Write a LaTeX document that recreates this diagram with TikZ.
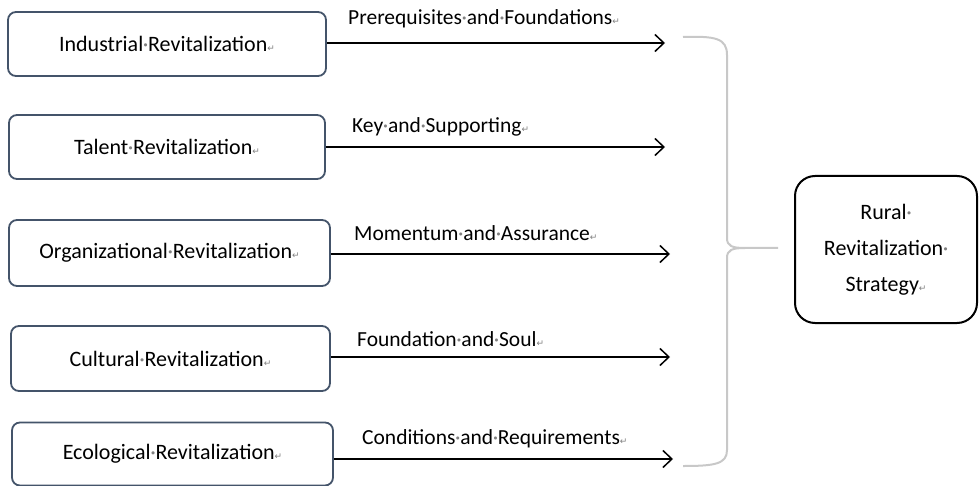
\documentclass[tikz,border=0pt]{standalone}
\usepackage{fontspec}
\setmainfont{Carlito}
\newfontfamily\djv{DejaVu Sans}
\usetikzlibrary{arrows.meta}
\definecolor{boxline}{HTML}{44546A}
\definecolor{bracegray}{HTML}{C8C8C8}
\newcommand\wdot{\makebox[0.22em]{\color{gray}\textperiodcentered}}
\newcommand\pmark{{\djv\fontsize{9}{9}\selectfont\color{gray}↵}}
\begin{document}
\begin{tikzpicture}[x=1pt,y=-1pt,
  font=\fontsize{22}{26}\selectfont,
  leftbox/.style={draw=boxline, line width=1.8pt, rounded corners=8pt, fill=white, inner sep=0pt},
  lbl/.style={anchor=west, inner sep=0pt, font=\fontsize{21.5}{26}\selectfont},
  arr/.style={line width=1.5pt, -{Straight Barb[length=9pt,width=17pt,line width=1.5pt]}},
  bracestyle/.style={draw=bracegray, line width=2pt}]
\useasboundingbox (0,0) rectangle (979,486);

\node[leftbox, minimum width=318pt, minimum height=64pt] (b1) at (167,44) {Industrial\wdot Revitalization\pmark};
\node[leftbox, minimum width=316pt, minimum height=64pt] (b2) at (167,147) {Talent\wdot Revitalization\pmark};
\node[leftbox, minimum width=321pt, minimum height=66pt] (b3) at (169.5,253) {Organizational\wdot Revitalization\pmark};
\node[leftbox, minimum width=319pt, minimum height=65pt] (b4) at (170.5,358.5) {Cultural\wdot Revitalization\pmark};
\node[leftbox, minimum width=321pt, minimum height=63pt] (b5) at (172.5,454) {Ecological\wdot Revitalization\pmark};

\coordinate (e1) at (665,43);
\coordinate (e2) at (665,147);
\coordinate (e3) at (670,254);
\coordinate (e4) at (670,357);
\coordinate (e5) at (673,459);

\draw[arr] (b1.east |- e1) -- (e1);
\draw[arr] (b2.east |- e2) -- (e2);
\draw[arr] (b3.east |- e3) -- (e3);
\draw[arr] (b4.east |- e4) -- (e4);
\draw[arr] (b5.east |- e5) -- (e5);

\node[lbl] (l1) at (348,19) {Prerequisites\wdot and\wdot Foundations\pmark};
\node[lbl] (l2) at (352,127) {Key\wdot and\wdot Supporting\pmark};
\node[lbl] (l3) at (354,233) {Momentum\wdot and\wdot Assurance\pmark};
\node[lbl] (l4) at (357,339) {Foundation\wdot and\wdot Soul\pmark};
\node[lbl] (l5) at (362,439) {Conditions\wdot and\wdot Requirements\pmark};

\draw[bracestyle] (683,37) .. controls (715,36) and (727,38) .. (727,55) -- (727,238)
  .. controls (727,246) and (732,248) .. (745,248) -- (778,248);
\draw[bracestyle] (745,248) .. controls (732,248) and (727,250) .. (727,258) -- (727,450)
  .. controls (727,464) and (715,466) .. (683,466);

\node[draw=black, line width=2pt, rounded corners=20pt, minimum width=182pt, minimum height=147pt, align=center, font=\fontsize{22}{36}\selectfont] (rs) at (886,249.5) {Rural\wdot\\Revitalization\wdot\\Strategy\pmark};
\end{tikzpicture}
\end{document}
